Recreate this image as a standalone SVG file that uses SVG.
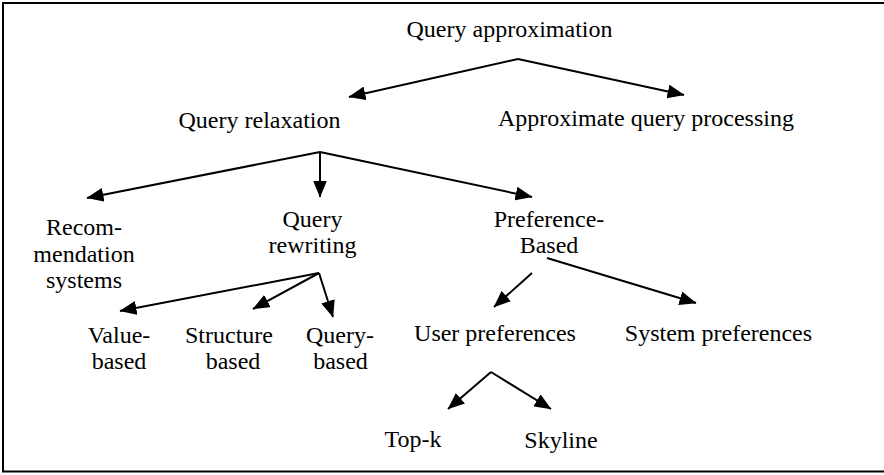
<svg xmlns="http://www.w3.org/2000/svg" width="884" height="475" viewBox="0 0 884 475">
<defs>
<style>
text{font-family:"Liberation Serif","Times New Roman",serif;font-size:24px;fill:#000;text-anchor:middle}
.c line{stroke:#000;stroke-width:2;marker-end:url(#ah)}
</style>
<marker id="ah" markerWidth="17" markerHeight="14" refX="16.5" refY="7" orient="auto" markerUnits="userSpaceOnUse"><path d="M0,0 L17,7 L0,14 z" fill="#000"/></marker>
</defs>
<rect width="884" height="475" fill="#fff"/>
<path d="M886,3 H3 V471.5 H886" fill="none" stroke="#000" stroke-width="2"/>
<g id="query-approximation"><text x="509.5" y="37">Query approximation</text></g>
<g id="query-relaxation"><text x="259.5" y="128">Query relaxation</text></g>
<g id="approximate-query-processing"><text x="646" y="126">Approximate query processing</text></g>
<g id="recommendation-systems"><text x="84" y="235">Recom-</text><text x="84" y="262">mendation</text><text x="84" y="288">systems</text></g>
<g id="query-rewriting"><text x="312.5" y="227">Query</text><text x="312.5" y="253">rewriting</text></g>
<g id="preference-based"><text x="549" y="227">Preference-</text><text x="549" y="253">Based</text></g>
<g id="value-based"><text x="119" y="343">Value-</text><text x="119" y="369">based</text></g>
<g id="structure-based"><text x="185" y="343" style="text-anchor:start">Structure</text><text x="233" y="369">based</text></g>
<g id="query-based"><text x="340" y="343">Query-</text><text x="340.5" y="369">based</text></g>
<g id="user-preferences"><text x="495" y="341">User preferences</text></g>
<g id="system-preferences"><text x="718.5" y="341">System preferences</text></g>
<g id="top-k"><text x="413" y="447">Top-k</text></g>
<g id="skyline"><text x="561" y="448">Skyline</text></g>
<g id="connectors" class="c">
<line x1="518" y1="59" x2="349" y2="97"/>
<line x1="518" y1="59" x2="684" y2="95"/>
<line x1="320" y1="152" x2="87" y2="198"/>
<line x1="320" y1="152" x2="320" y2="197"/>
<line x1="320" y1="152" x2="532" y2="197"/>
<line x1="319" y1="273" x2="120" y2="311"/>
<line x1="319" y1="273" x2="253" y2="309"/>
<line x1="319" y1="273" x2="333" y2="317"/>
<line x1="532" y1="273" x2="494" y2="307"/>
<line x1="547" y1="258" x2="696" y2="303"/>
<line x1="491" y1="372" x2="448" y2="409"/>
<line x1="491" y1="372" x2="551" y2="409"/>
</g>
</svg>
